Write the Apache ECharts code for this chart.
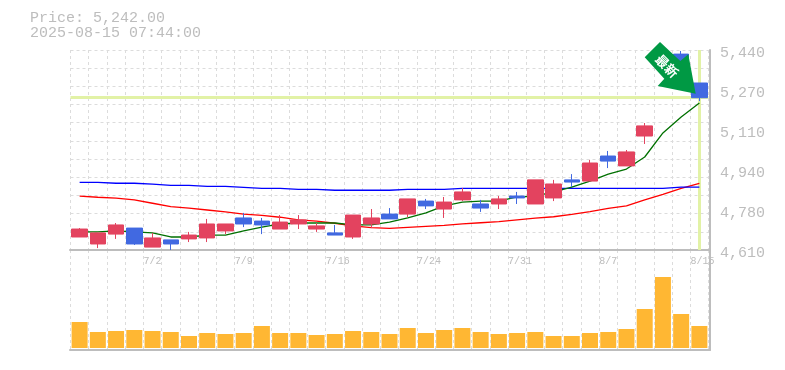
<!DOCTYPE html>
<html>
<head>
<meta charset="utf-8">
<style>
html, body { margin: 0; padding: 0; background: #fff; }
#main { width: 785px; height: 370px; }
</style>
<script src="https://cdn.jsdelivr.net/npm/echarts@6/dist/echarts.min.js"></script>
</head>
<body>
<div id="main"></div>
<script>
const dates = ['6/26','6/27','6/30','7/1','7/2','7/3','7/4','7/7','7/8','7/9','7/10','7/11','7/14','7/15','7/16','7/17','7/18','7/22','7/23','7/24','7/25','7/28','7/29','7/30','7/31','8/1','8/4','8/5','8/6','8/7','8/8','8/12','8/13','8/14','8/15'];
const dateLabels = ['7/2','7/9','7/16','7/24','7/31','8/7','8/15'];

const opens  = [4664,4635,4676,4701,4622,4652,4656,4660,4689,4743,4730,4697,4718,4697,4681,4664,4718,4759,4759,4813,4780,4818,4801,4801,4834,4801,4826,4901,4896,5000,4959,5083,5365,5423,5303];
const closes = [4697,4681,4714,4635,4660,4635,4672,4718,4718,4718,4714,4726,4735,4710,4672,4755,4743,4739,4822,4793,4809,4851,4784,4822,4826,4901,4884,4892,4971,4979,5017,5125,5419,5332,5242];
const lows   = [4664,4618,4656,4631,4622,4610,4643,4643,4676,4705,4676,4697,4697,4685,4672,4656,4701,4739,4747,4780,4743,4813,4768,4780,4801,4801,4813,4871,4896,4950,4959,5050,5365,5332,5228];
const highs  = [4701,4681,4722,4701,4681,4652,4685,4739,4718,4764,4743,4755,4755,4722,4714,4755,4780,4784,4822,4822,4830,4867,4818,4834,4851,4901,4901,4925,4984,5021,5025,5137,5419,5436,5303];

const maShort = [4685,4685,4689,4685,4681,4664,4664,4672,4672,4689,4705,4718,4722,4722,4722,4714,4714,4726,4743,4764,4793,4809,4813,4813,4830,4834,4851,4871,4896,4925,4946,4996,5096,5162,5220];
const maMiddle = [4834,4829,4825,4818,4804,4790,4784,4776,4768,4759,4754,4746,4735,4730,4721,4710,4703,4700,4704,4708,4712,4718,4723,4728,4735,4742,4748,4758,4769,4783,4793,4818,4841,4866,4887];
const maLong = [4891,4891,4887,4887,4883,4878,4878,4874,4874,4870,4866,4866,4862,4862,4858,4858,4858,4858,4862,4862,4862,4866,4866,4866,4866,4866,4866,4866,4866,4866,4866,4866,4866,4871,4871];

const volumes = [26,16,17,18,17,16,12,15,14,15,22,15,15,13,14,17,16,14,20,15,18,20,16,14,15,16,12,12,15,16,19,39,71,34,22];

const priceTicks = [5440,5274,5108,4942,4776,4610];
const priceLabels = ['5,440','5,270','5,110','4,940','4,780','4,610'];
const lastPrice = 5242;
const lastDate = '8/15';
const titleLines = ['Price: 5,242.00', '2025-08-15 07:44:00'];

const candles = dates.map((d, i) => [opens[i], closes[i], lows[i], highs[i]]);

const MONO = '"Liberation Mono", monospace';
const GREY = '#bdbdbd';
const DASH = { color: '#dcdcdc', width: 1, type: [3, 3] };

let mychart = echarts.init(document.getElementById('main'), null, { renderer: 'canvas' });

function frameX(gridIndex) {
	return {
		type: 'value', gridIndex: gridIndex, min: 0, max: 1,
		axisLine: { show: true, onZero: false, lineStyle: { color: GREY, width: 2 } },
		axisTick: { show: false }, axisLabel: { show: false }, splitLine: { show: false }
	};
}

let option = {
	animation: false,
	backgroundColor: '#fff',
	title: {
		text: titleLines.join('\n'),
		left: 25,
		top: 6,
		textStyle: { fontFamily: MONO, fontSize: 15, fontWeight: 'normal', color: GREY, lineHeight: 15 }
	},
	grid: [
		{ left: 70.5, top: 50, width: 638, height: 200 },
		{ left: 70.5, top: 250, width: 638, height: 100 },
		{ left: 70, top: 50, width: 640, height: 200 },
		{ left: 70, top: 250, width: 640, height: 100 }
	],
	xAxis: [
		{
			type: 'category', gridIndex: 0, data: dates,
			axisLine: { show: false }, axisTick: { show: false },
			splitLine: { show: true, interval: 0, lineStyle: DASH },
			axisLabel: {
				interval: (i, v) => dateLabels.includes(v),
				margin: 6,
				hideOverlap: false,
				color: GREY,
				fontFamily: MONO,
				fontSize: 10,
				formatter: v => '{l|' + v + '}',
				rich: { l: { width: 18, align: 'left', color: GREY, fontFamily: MONO, fontSize: 10 } }
			}
		},
		{
			type: 'category', gridIndex: 1, data: dates,
			axisLine: { show: false }, axisTick: { show: false }, axisLabel: { show: false },
			splitLine: { show: true, interval: 0, lineStyle: DASH }
		},
		frameX(2),
		frameX(3)
	],
	yAxis: [
		{
			type: 'value', gridIndex: 0, min: priceTicks[5], max: priceTicks[0],
			axisLine: { show: false }, axisTick: { show: false }, axisLabel: { show: false }, splitLine: { show: false }
		},
		{
			type: 'value', gridIndex: 0, min: 0, max: 11, interval: 1,
			axisLine: { show: false }, axisTick: { show: false }, axisLabel: { show: false },
			splitLine: { show: true, lineStyle: DASH }
		},
		{
			type: 'value', gridIndex: 1, min: -2, max: 98,
			axisLine: { show: false }, axisTick: { show: false }, axisLabel: { show: false }, splitLine: { show: false }
		},
		{
			type: 'value', gridIndex: 2, position: 'right', min: priceTicks[5], max: priceTicks[0],
			axisLine: { show: true, onZero: false, lineStyle: { color: GREY, width: 2 } },
			axisTick: { show: false }, splitLine: { show: false },
			axisLabel: {
				show: true,
				customValues: priceTicks,
				margin: 10,
				showMinLabel: true,
				showMaxLabel: true,
				formatter: v => '{p|' + priceLabels[priceTicks.indexOf(v)] + '}',
				rich: { p: { color: GREY, fontFamily: MONO, fontSize: 15, padding: [7, 0, 0, 0] } }
			}
		},
		{
			type: 'value', gridIndex: 3, position: 'right', min: 0, max: 1,
			axisLine: { show: true, onZero: false, lineStyle: { color: GREY, width: 2 } },
			axisTick: { show: false }, axisLabel: { show: false }, splitLine: { show: false }
		}
	],
	series: [
		{
			name: 'guide', type: 'line', xAxisIndex: 0, yAxisIndex: 0, data: [], z: 1,
			markLine: {
				silent: true, symbol: 'none', animation: false, z: 1,
				label: { show: false },
				lineStyle: { color: '#e2f2a6', width: 3, type: 'solid' },
				data: [{ yAxis: lastPrice }, { xAxis: lastDate }]
			}
		},
		{ name: 'ma25', type: 'line', xAxisIndex: 0, yAxisIndex: 0, data: maMiddle, z: 2, symbol: 'none', lineStyle: { color: '#ff0000', width: 1.3 } },
		{ name: 'ma75', type: 'line', xAxisIndex: 0, yAxisIndex: 0, data: maLong, z: 2, symbol: 'none', lineStyle: { color: '#0000ff', width: 1.3 } },
		{ name: 'ma5', type: 'line', xAxisIndex: 0, yAxisIndex: 0, data: maShort, z: 2, symbol: 'none', lineStyle: { color: '#007000', width: 1.3 } },
		{
			name: 'price', type: 'candlestick', xAxisIndex: 0, yAxisIndex: 0, data: candles, z: 3,
			barWidth: 16, clip: true,
			itemStyle: { color: '#e3435f', color0: '#4169e1', borderColor: '#e3435f', borderColor0: '#4169e1', borderWidth: 1 }
		},
		{
			name: 'volume', type: 'bar', xAxisIndex: 1, yAxisIndex: 2, data: volumes, barWidth: 16,
			itemStyle: { color: '#ffb733' }
		}
	],
	graphic: [
		{
			type: 'polygon', z: 100,
			shape: { points: [[660,42],[644.7,57.3],[664.3,78.7],[657.7,86],[695.7,93.7],[688.3,54.3],[680.3,61]] },
			style: { fill: '#009944' }
		},
		{
			type: 'text', z: 101, x: 667, y: 66, rotation: -Math.PI / 4,
			style: {
				text: '最新', fill: '#fff', fontSize: 13, fontWeight: 'bold',
				fontFamily: '"Noto Sans CJK JP"', align: 'center', verticalAlign: 'middle'
			}
		}
	]
};

mychart.setOption(option);
</script>
</body>
</html>
